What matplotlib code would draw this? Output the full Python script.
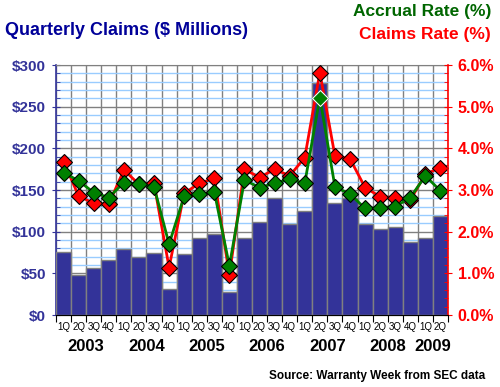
import numpy as np
import matplotlib.pyplot as plt
from matplotlib.ticker import MultipleLocator, FixedLocator, NullFormatter

plt.rcParams['font.family'] = ['Liberation Sans', 'DejaVu Sans']

# quarters 1Q 2003 .. 2Q 2009
quarters = ["1Q", "2Q", "3Q", "4Q"] * 6 + ["1Q", "2Q"]
years = ["2003", "2004", "2005", "2006", "2007", "2008", "2009"]
claims = [76, 48, 56, 66, 79, 70, 74, 31, 73, 93, 97, 28, 93, 112, 140, 109,
          125, 278, 134, 141, 109, 103, 106, 88, 93, 119]
claims_rate = [3.68, 2.86, 2.68, 2.66, 3.48, 3.14, 3.16, 1.14, 2.92, 3.16, 3.28, 0.96,
               3.50, 3.30, 3.50, 3.34, 3.78, 5.82, 3.82, 3.75, 3.06, 2.84, 2.82, 2.76,
               3.38, 3.54]
accrual_rate = [3.42, 3.22, 2.94, 2.82, 3.18, 3.14, 3.08, 1.70, 2.85, 2.90, 2.96, 1.18,
                3.24, 3.06, 3.16, 3.26, 3.16, 5.22, 3.08, 2.90, 2.56, 2.58, 2.60, 2.82,
                3.34, 2.98]

navy = '#333399'
x = np.arange(len(claims))

fig = plt.figure(figsize=(5, 3.87), dpi=100)
ax = fig.add_axes([0.112, 0.186, 0.784, 0.646])
ax2 = ax.twinx()

ax.bar(x, claims, width=1.0, color=navy, edgecolor='#808080', linewidth=1, zorder=3)
ax.set_xlim(-0.5, len(claims) - 0.5)
ax.set_yticks(range(0, 301, 50), ['${:d}'.format(v) for v in range(0, 301, 50)])
ax.yaxis.set_minor_locator(MultipleLocator(10))
ax.set_ylim(0, 300)
ax.set_axisbelow(True)
ax.grid(axis='y', which='minor', color='#99CCFF', linewidth=1, zorder=0)
ax.grid(axis='y', which='major', color='#808080', linewidth=1, zorder=0)
ax.xaxis.set_major_locator(FixedLocator(np.arange(-0.5, len(claims), 1.0)))
ax.xaxis.set_major_formatter(NullFormatter())
ax.xaxis.set_minor_locator(FixedLocator(x))
ax.set_xticklabels(quarters, minor=True)
ax.grid(axis='x', which='major', color='#808080', linewidth=1, zorder=0)
ax.tick_params(axis='x', which='major', length=5, color='black', direction='out')
ax.tick_params(axis='x', which='minor', length=0, labelsize=7, pad=5)
ax.tick_params(axis='y', which='major', length=6, direction='inout', color=navy,
               labelcolor=navy, labelsize=11, pad=4)
ax.tick_params(axis='y', which='minor', length=3, direction='in', color=navy)
for lab in ax.get_yticklabels():
    lab.set_fontweight('bold')
ax.spines['left'].set_color(navy)
ax.spines['left'].set_linewidth(1.2)
ax.spines['top'].set_color('#808080')
ax.spines['right'].set_visible(False)

ax2.plot(x, claims_rate, color='#FF0000', linewidth=2, marker='D', markersize=8,
         markerfacecolor='#FF0000', markeredgecolor='black', markeredgewidth=0.8)
ax2.plot(x, accrual_rate, color='#008000', linewidth=2, marker='D', markersize=8,
         markerfacecolor='#008000', markeredgecolor='black', markeredgewidth=0.8)
# peak accrual marker is drawn with a white outline in the original
peak = int(np.argmax(accrual_rate))
ax2.plot(x[peak], accrual_rate[peak], linestyle='none', marker='D', markersize=8,
         markerfacecolor='#008000', markeredgecolor='white', markeredgewidth=0.8)
ax2.set_yticks(range(0, 7), ['{:.1f}%'.format(v) for v in range(0, 7)])
ax2.yaxis.set_minor_locator(MultipleLocator(0.2))
ax2.set_ylim(0, 6)
ax2.tick_params(axis='y', which='major', length=6, direction='inout', color='red',
                labelcolor='red', labelsize=11.5, pad=4)
ax2.tick_params(axis='y', which='minor', length=3, direction='in', color='red')
for lab in ax2.get_yticklabels():
    lab.set_fontweight('bold')
ax2.spines['right'].set_color('red')
ax2.spines['right'].set_linewidth(1.2)
ax2.spines['left'].set_visible(False)
ax2.spines['top'].set_visible(False)

# year labels under the quarter labels
starts = [0, 4, 8, 12, 16, 20, 24]
sizes = [4, 4, 4, 4, 4, 4, 2]
for yr, s, n in zip(years, starts, sizes):
    ax.text(s + (n - 1) / 2, -0.124, yr, transform=ax.get_xaxis_transform(),
            ha='center', va='center', fontsize=12, fontweight='bold')

fig.text(0.01, 0.922, 'Quarterly Claims ($ Millions)', ha='left', va='center',
         fontsize=13, fontweight='bold', color='#000099')
fig.text(0.982, 0.969, 'Accrual Rate (%)', ha='right', va='center',
         fontsize=12.5, fontweight='bold', color='#006600')
fig.text(0.982, 0.910, 'Claims Rate (%)', ha='right', va='center',
         fontsize=12.5, fontweight='bold', color='#FF0000')
fig.text(0.755, 0.028, 'Source: Warranty Week from SEC data', ha='center', va='center',
         fontsize=8.5, fontweight='bold')

fig.savefig('out.png', dpi=100)
